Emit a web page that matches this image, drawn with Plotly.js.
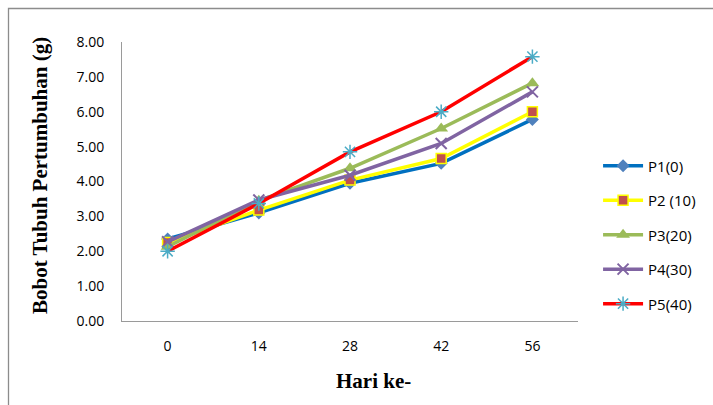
<!DOCTYPE html>
<html>
<head>
<meta charset="utf-8">
<script src="https://cdn.plot.ly/plotly-3.0.1.min.js"></script>
<style>
html,body{margin:0;padding:0;background:#fff;}
#chart{width:713px;height:405px;}
</style>
</head>
<body>
<div id="chart"></div>
<script>
const days = ['0', '14', '28', '42', '56'];
const p1 = [2.35, 3.10, 3.95, 4.52, 5.78];
const p2 = [2.25, 3.18, 4.04, 4.66, 6.00];
const p3 = [2.13, 3.45, 4.38, 5.52, 6.82];
const p4 = [2.27, 3.47, 4.18, 5.09, 6.57];
const p5 = [2.00, 3.37, 4.85, 6.00, 7.58];
const seriesNames = ['P1(0)', 'P2 (10)', 'P3(20)', 'P4(30)', 'P5(40)'];
const yTicks = [0, 1, 2, 3, 4, 5, 6, 7, 8];

const styles = [
  {line: '#0070C0', marker: {symbol: 'diamond', color: '#4F81BD', size: 10}},
  {line: '#FFFF00', marker: {symbol: 'square', color: '#C0504D', size: 10, line: {color: '#FFFF00', width: 1.5}}},
  {line: '#9BBB59', marker: {symbol: 'triangle-up', color: '#9BBB59', size: 12}},
  {line: '#8064A2', marker: {symbol: 'x-thin', color: '#8064A2', size: 11, line: {color: '#8064A2', width: 2}}},
  {line: '#FF0000', marker: {symbol: 'asterisk', color: '#4BACC6', size: 12, line: {color: '#4BACC6', width: 1.5}}}
];
const values = [p1, p2, p3, p4, p5];

const traces = values.map((v, i) => ({
  x: days, y: v, name: seriesNames[i], type: 'scatter', mode: 'lines+markers',
  legendgroup: 'g' + i,
  line: {color: styles[i].line, width: 3.5},
  marker: styles[i].marker
}));

const tickFont = {family: 'Open Sans, sans-serif', size: 14, color: '#000'};

const layout = {
  width: 713, height: 405,
  margin: {l: 122, r: 135, t: 42, b: 84},
  paper_bgcolor: '#fff', plot_bgcolor: '#fff',
  font: tickFont,
  showlegend: true,
  legend: {x: 1.044, y: 0.615, xanchor: 'left', yanchor: 'top',
           font: {family: 'Open Sans, sans-serif', size: 15, color: '#000'},
           itemwidth: 40,
           tracegroupgap: 12, bgcolor: 'rgba(0,0,0,0)'},
  xaxis: {type: 'category', categoryorder: 'array', categoryarray: days,
          range: [-0.5, 4.5], showline: true, linecolor: '#9a9a9a', linewidth: 1,
          showgrid: false, zeroline: false, ticks: 'outside', ticklen: 12,
          tickcolor: 'rgba(0,0,0,0)', tickfont: tickFont},
  yaxis: {range: [0, 8], tickvals: yTicks, tickformat: '.2f',
          showline: true, linecolor: '#9a9a9a', linewidth: 1,
          showgrid: false, zeroline: false, ticks: 'outside', ticklen: 14,
          tickcolor: 'rgba(0,0,0,0)', tickfont: tickFont},
  annotations: [
    {text: '<b>Hari ke-</b>', xref: 'paper', yref: 'paper', x: (373 - 122) / 456, y: (321 - 381) / 279,
     xanchor: 'center', yanchor: 'middle', showarrow: false,
     font: {family: 'Liberation Serif, serif', size: 21, color: '#000'}},
    {text: '<b>Bobot Tubuh Pertumbuhan (g)</b>', xref: 'paper', yref: 'paper', x: (40 - 122) / 456, y: (321 - 176) / 279,
     xanchor: 'center', yanchor: 'middle', showarrow: false, textangle: -90,
     font: {family: 'Liberation Serif, serif', size: 21, color: '#000'}}
  ],
  shapes: [
    {type: 'path', xref: 'paper', yref: 'paper',
     path: 'M ' + ((8.5 - 122) / 456) + ',' + ((321 - 410) / 279) + ' L ' + ((8.5 - 122) / 456) + ',' + ((321 - 8.5) / 279) + ' L ' + ((720 - 122) / 456) + ',' + ((321 - 8.5) / 279),
     line: {color: '#8c8c8c', width: 1.3}}
  ]
};

Plotly.newPlot('chart', traces, layout, {displayModeBar: false, staticPlot: true});
</script>
</body>
</html>
